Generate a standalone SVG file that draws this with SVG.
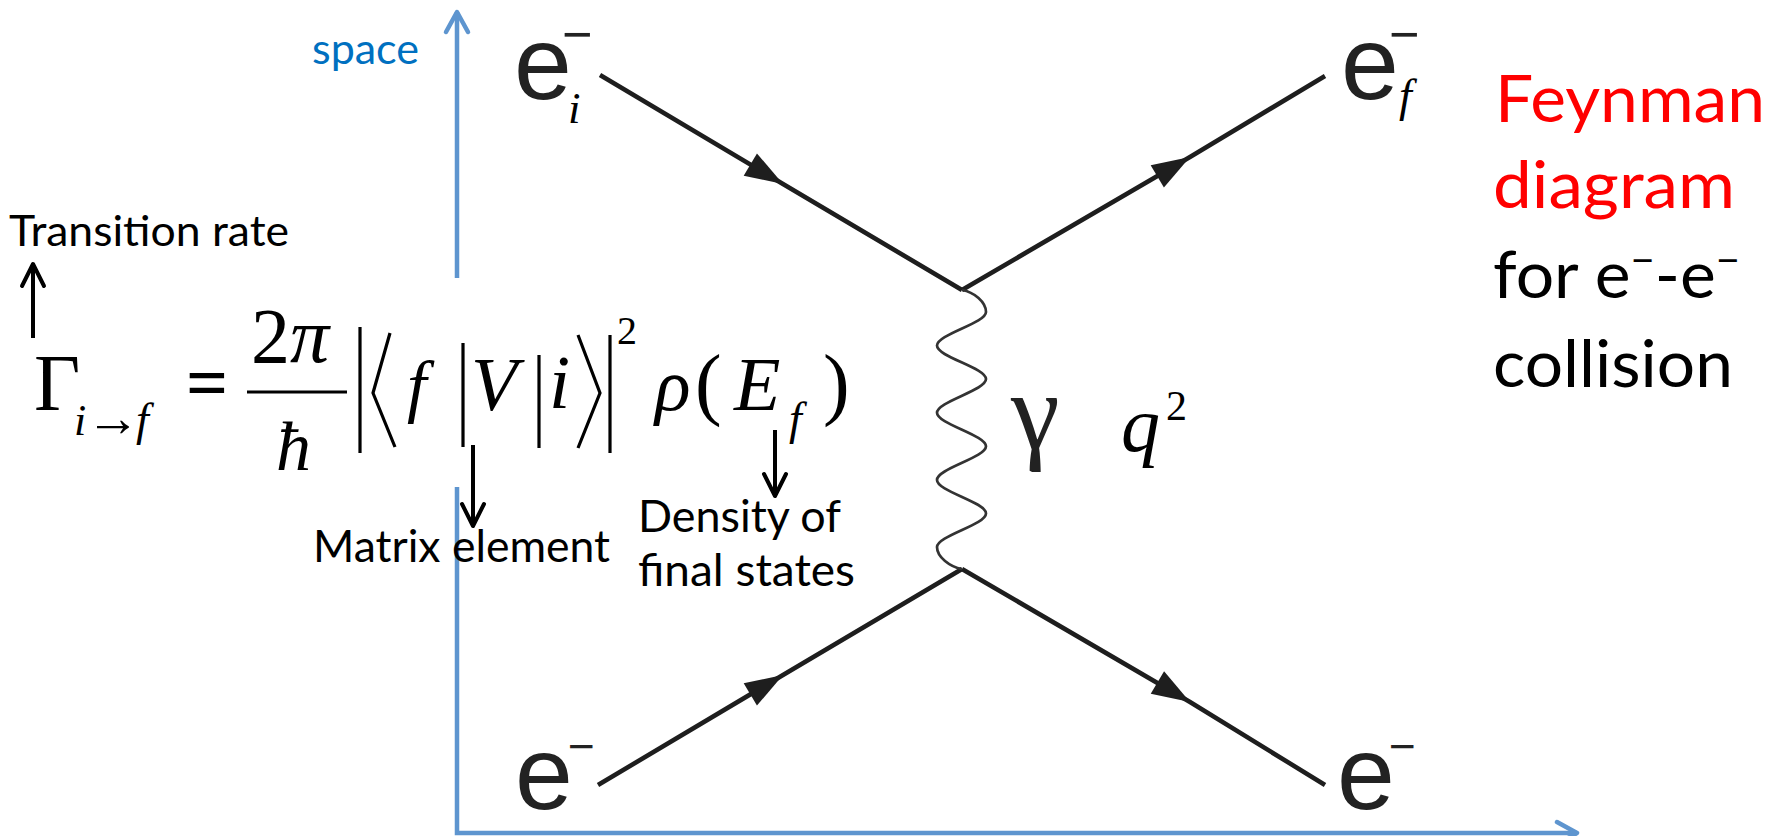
<svg xmlns="http://www.w3.org/2000/svg" width="1777" height="836" viewBox="0 0 1777 836">
<style>
.lbl{font-family:Lato,"Open Sans","Liberation Sans",sans-serif;fill:#000}
.big{font-family:Lato,"Open Sans","Liberation Sans",sans-serif;font-size:65px}
.m{font-family:"Liberation Serif","Times New Roman",serif;fill:#000}
.it{font-style:italic}
.el{font-family:"Liberation Sans",Arial,sans-serif;fill:#222}
.fl{fill:none;stroke:#1e1e1e;stroke-width:4.6;stroke-linecap:butt}
.bar{stroke:#000;stroke-width:3.2;fill:none}
.ax{fill:none;stroke:#5E95CF;stroke-width:4.5}
.ka{fill:none;stroke:#000;stroke-width:4}
</style>
<defs>
<marker id="tri" markerUnits="userSpaceOnUse" viewBox="-42 -16 46 32" markerWidth="46" markerHeight="32" refX="0" refY="0" orient="auto">
<path d="M-38,-13 L0,0 L-38,13 Z" fill="#1e1e1e"/>
</marker>
<marker id="chevB" markerUnits="userSpaceOnUse" viewBox="-26 -16 32 32" markerWidth="32" markerHeight="32" refX="0" refY="0" orient="auto">
<path d="M-20,-11 L0,0 L-20,11" fill="none" stroke="#5E95CF" stroke-width="4.5" stroke-linecap="round" stroke-linejoin="round"/>
</marker>
<marker id="chevK" markerUnits="userSpaceOnUse" viewBox="-26 -16 32 32" markerWidth="32" markerHeight="32" refX="0" refY="0" orient="auto">
<path d="M-22,-11 L0,0 L-22,11" fill="none" stroke="#000" stroke-width="4" stroke-linecap="round" stroke-linejoin="round"/>
</marker>
</defs>
<rect width="1777" height="836" fill="#fff"/>

<g id="connectors">
<line class="ax" x1="457" y1="278" x2="457" y2="12" marker-end="url(#chevB)"/>
<path class="ax" d="M457,487 V833 H1577" marker-end="url(#chevB)"/>
<path class="fl" d="M600,75 L783,184 L962,290" marker-mid="url(#tri)"/>
<path class="fl" d="M962,290 L1190,157 L1325,76" marker-mid="url(#tri)"/>
<path class="fl" d="M598,785 L783,675 L962,569" marker-mid="url(#tri)"/>
<path class="fl" d="M962,569 L1190,702 L1325,785" marker-mid="url(#tri)"/>
<path id="photon" fill="none" stroke="#333" stroke-width="2.7" d="M962,290 C974,292 986,302 986,312 C986,323.2 937,334.4 937,345.6 C937,356.8 986,367.9 986,379.1 C986,390.3 937,401.5 937,412.7 C937,423.9 986,435.1 986,446.3 C986,457.5 937,468.7 937,479.9 C937,491.1 986,502.2 986,513.4 C986,524.6 937,535.8 937,547 C937,557 950,567 962,569"/>
<line class="ka" x1="33" y1="338" x2="33" y2="264" marker-end="url(#chevK)"/>
<line class="ka" x1="473" y1="445" x2="473" y2="526" marker-end="url(#chevK)"/>
<line class="ka" x1="775" y1="430" x2="775" y2="496" marker-end="url(#chevK)"/>
</g>

<g id="space-label">
<text class="lbl" x="312" y="64" font-size="42" style="fill:#0070C0" textLength="107" lengthAdjust="spacingAndGlyphs">space</text>
</g>

<g id="electron-in-top">
<text class="el" x="514" y="99" font-size="104">e<tspan x="562" y="51.5" font-size="52">−</tspan><tspan class="m it" x="568" y="123" font-size="45" style="fill:#000">i</tspan></text>
</g>
<g id="electron-out-top">
<text class="el" x="1341" y="99" font-size="104">e<tspan x="1389" y="51.5" font-size="52">−</tspan><tspan class="m it" x="1399" y="110.5" font-size="46" style="fill:#000">f</tspan></text>
</g>
<g id="electron-in-bottom">
<text class="el" x="515" y="809" font-size="104">e<tspan x="568" y="761.5" font-size="46">−</tspan></text>
</g>
<g id="electron-out-bottom">
<text class="el" x="1337" y="809" font-size="104">e<tspan x="1389" y="761.5" font-size="46">−</tspan></text>
</g>

<g id="photon-labels">
<text class="m" x="1011" y="449" font-size="110" style="fill:#222">γ</text>
<text class="m it" x="1121" y="451" font-size="78">q<tspan x="1166" y="420" font-size="42" style="font-style:normal">2</tspan></text>
</g>

<g id="transition-label">
<text class="lbl" x="9" y="246" font-size="42" textLength="280" lengthAdjust="spacingAndGlyphs">Transition rate</text>
</g>

<g id="formula">
<text class="m" x="34" y="410" font-size="80">Γ<tspan class="it" x="74" y="435" font-size="44">i</tspan><tspan x="86" y="436" font-size="54">→</tspan><tspan class="it" x="136" y="435" font-size="46">f</tspan></text>
<text class="m" x="186" y="408" font-size="74" font-weight="bold">=</text>
<text class="m" x="251" y="362" font-size="78">2<tspan class="it" x="290">π</tspan></text>
<line class="bar" x1="247" y1="392" x2="347" y2="392" stroke-width="3.8"/>
<text class="m it" x="276" y="470" font-size="70">ħ</text>
<line class="bar" x1="360" y1="327" x2="360" y2="453"/>
<polyline class="bar" points="390,333 373,393 395,447"/>
<text class="m it" x="407" y="409" font-size="70">f</text>
<line class="bar" x1="463" y1="343" x2="463" y2="447"/>
<text class="m it" x="471" y="410" font-size="76">V</text>
<line class="bar" x1="539" y1="355" x2="539" y2="448"/>
<text class="m it" x="549" y="408" font-size="76">i</text>
<polyline class="bar" points="578,335 600,393 578,448"/>
<line class="bar" x1="610" y1="335" x2="610" y2="453"/>
<text class="m" x="617" y="344" font-size="40">2</text>
<text class="m it" x="655" y="410" font-size="74">ρ</text>
<text class="m" x="695" y="410" font-size="80">(</text>
<text class="m it" x="734" y="410" font-size="76">E<tspan x="789" y="434" font-size="46">f</tspan></text>
<text class="m" x="823" y="410" font-size="80">)</text>
</g>

<g id="matrix-label">
<text class="lbl" x="313" y="562" font-size="44" textLength="297" lengthAdjust="spacingAndGlyphs">Matrix element</text>
</g>
<g id="density-label">
<text class="lbl" x="638" y="532" font-size="44" textLength="203" lengthAdjust="spacingAndGlyphs">Density of</text>
<text class="lbl" x="638" y="586" font-size="44" textLength="217" lengthAdjust="spacingAndGlyphs">final states</text>
</g>

<g id="title">
<text class="big" x="1495" y="122" fill="#FF0000" textLength="270" lengthAdjust="spacingAndGlyphs">Feynman</text>
<text class="big" x="1493" y="208" fill="#FF0000" textLength="242" lengthAdjust="spacingAndGlyphs">diagram</text>
<text class="big" x="1493" y="298" fill="#000" textLength="247" lengthAdjust="spacingAndGlyphs">for e<tspan font-size="40" dy="-24">−</tspan><tspan dy="24">-e</tspan><tspan font-size="40" dy="-24">−</tspan></text>
<text class="big" x="1493" y="387" fill="#000" textLength="240" lengthAdjust="spacingAndGlyphs">collision</text>
</g>
</svg>
